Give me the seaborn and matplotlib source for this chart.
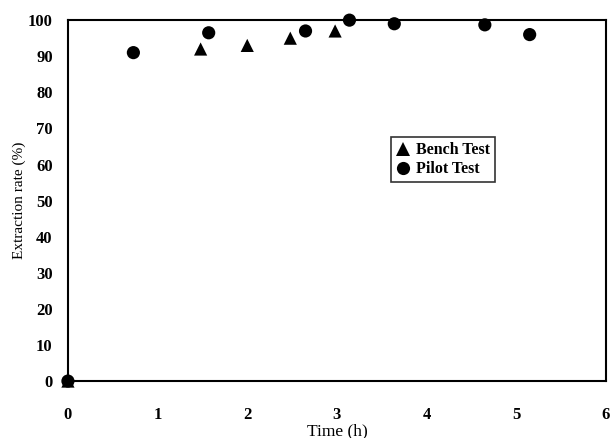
import pandas as pd
import matplotlib
matplotlib.use("Agg")
import matplotlib.pyplot as plt
import seaborn as sns

# --- dati ---
bench_time = [0, 1.48, 2.0, 2.48, 2.98]
bench_rate = [0, 92, 93, 95, 97]
pilot_time = [0, 0.73, 1.57, 2.65, 3.14, 3.64, 4.65, 5.15]
pilot_rate = [0, 91, 96.5, 97, 100, 99, 98.7, 96]
x_ticks = [0, 1, 2, 3, 4, 5, 6]
y_ticks = [0, 10, 20, 30, 40, 50, 60, 70, 80, 90, 100]

df = pd.concat([
    pd.DataFrame({"Time": bench_time, "Rate": bench_rate, "Test": "Bench Test"}),
    pd.DataFrame({"Time": pilot_time, "Rate": pilot_rate, "Test": "Pilot Test"}),
], ignore_index=True)

sns.set_theme(style="white")
plt.rcParams["font.family"] = ["Liberation Serif", "DejaVu Serif"]
plt.rcParams["text.color"] = "black"
plt.rcParams["axes.labelcolor"] = "black"

fig, ax = plt.subplots(figsize=(6.12, 4.38), dpi=100)
fig.subplots_adjust(left=0.111, right=0.990, top=0.954, bottom=0.130)

sns.scatterplot(
    data=df, x="Time", y="Rate", hue="Test", style="Test",
    markers={"Bench Test": "^", "Pilot Test": "o"},
    palette={"Bench Test": "black", "Pilot Test": "black"},
    s=90, edgecolor="black", linewidth=0, ax=ax, zorder=3, clip_on=False,
)

ax.set_xlim(0, 6)
ax.set_ylim(0, 100)
ax.set_xticks(x_ticks)
ax.set_yticks(y_ticks)
ax.set_xticklabels(x_ticks, fontweight="bold", fontsize=12)
ax.set_yticklabels(y_ticks, fontweight="bold", fontsize=12)
ax.tick_params(direction="in", length=4, width=1, colors="black")
ax.tick_params(axis="x", pad=19)
ax.tick_params(axis="y", pad=11)

for sp in ax.spines.values():
    sp.set_color("black")
    sp.set_linewidth(1.5)

ax.set_xlabel("Time (h)", fontsize=12.5, labelpad=0)
ax.set_ylabel("Extraction rate (%)", fontsize=11, labelpad=1)

leg = ax.legend(
    loc="upper left", bbox_to_anchor=(0.6, 0.675), frameon=True, fancybox=False,
    prop={"weight": "bold", "size": 11.5}, handletextpad=0.3, borderpad=0.3,
    labelspacing=0.2, handlelength=1.0, borderaxespad=0,
)
leg.get_frame().set_edgecolor("black")
leg.get_frame().set_linewidth(1.2)

plt.savefig("out.png", dpi=100)
plt.close()
